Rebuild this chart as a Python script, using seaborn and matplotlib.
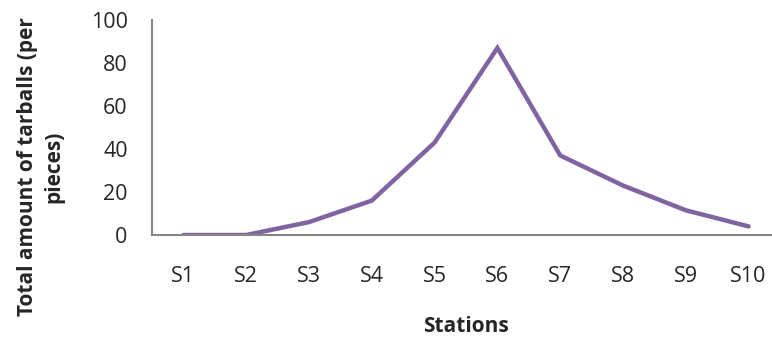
import pandas as pd
import seaborn as sns
import matplotlib.pyplot as plt

# Veriler
stations = ["S1", "S2", "S3", "S4", "S5", "S6", "S7", "S8", "S9", "S10"]
tarballs = [0, 0, 6, 16, 43, 87, 37, 23, 11.5, 4]

df = pd.DataFrame({"station": stations, "tarballs": tarballs})
df["pos"] = range(len(stations))

sns.set_style("white")
plt.rcParams['font.family'] = ['Open Sans', 'DejaVu Sans']

fig = plt.figure(figsize=(7.72, 3.4), dpi=100)
ax = fig.add_axes([152 / 772, 105 / 340, 628 / 772, 215 / 340])

sns.lineplot(data=df, x="pos", y="tarballs", color="#8064A2", linewidth=3.2,
             ax=ax, solid_capstyle="round", solid_joinstyle="miter")

ax.set_xlim(-0.5, 9.5)
ax.set_ylim(0, 100)
ax.set_yticks(range(0, 101, 20))
ax.set_xticks(df["pos"])
ax.set_xticklabels(stations)

for s in ["top", "right"]:
    ax.spines[s].set_visible(False)
for s in ["left", "bottom"]:
    ax.spines[s].set_color("#868686")
    ax.spines[s].set_linewidth(1.5)

ax.tick_params(axis="y", length=6.5, width=1.2, color="#868686", labelsize=15.5, pad=11)
ax.tick_params(axis="x", length=0, labelsize=15.5, pad=22)

ax.set_xlabel("Stations", fontsize=15, fontweight="bold")
ax.xaxis.set_label_coords(0.5, -0.375)
ax.set_ylabel("Total amount of tarballs (per\npieces)", fontsize=15,
              fontweight="bold", linespacing=1.35)
ax.yaxis.set_label_coords(-0.139, 0.316)

fig.savefig("out.png", dpi=100)
